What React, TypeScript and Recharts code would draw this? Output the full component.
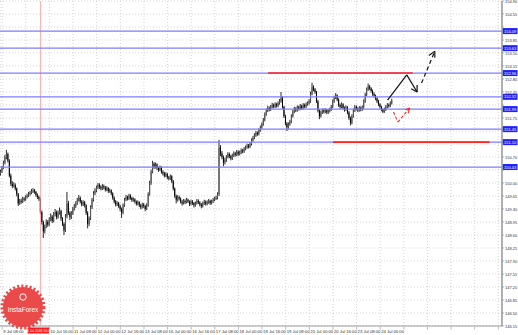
import React from 'react'
import { ComposedChart, Bar, XAxis, YAxis, CartesianGrid, ReferenceLine } from 'recharts'

// hourly bars, 9 Jul 07:00 .. 24 Jul 06:00 (open = previous close)
const firstOpen = 150.25
const closes = [
  150.30, 150.42, 150.55, 150.70, 150.78, 150.60, 150.20, 149.98, 149.92, 149.95,
  149.85, 149.70, 149.45, 149.52, 149.50, 149.58, 149.55, 149.62, 149.66, 149.70,
  149.74, 149.78, 149.80, 149.76, 149.68, 149.62, 149.58, 149.22, 148.95, 148.70,
  148.82, 148.95, 148.88, 149.02, 149.10, 148.98, 149.15, 149.22, 149.08, 149.20,
  149.25, 149.05, 148.90, 148.72, 149.10, 149.45, 149.20, 149.08, 149.18, 149.30,
  149.38, 149.45, 149.55, 149.60, 149.50, 149.42, 149.48, 149.40, 149.20, 148.90,
  149.05, 149.35, 149.55, 149.72, 149.80, 149.88, 149.95, 149.90, 149.85, 149.92,
  149.88, 149.82, 149.86, 149.78, 149.80, 149.72, 149.60, 149.50, 149.42, 149.46,
  149.38, 149.30, 149.20, 149.40, 149.55, 149.62, 149.58, 149.66, 149.60, 149.54,
  149.56, 149.50, 149.44, 149.48, 149.40, 149.35, 149.42, 149.38, 149.30, 149.40,
  149.70, 150.00, 150.30, 150.52, 150.44, 150.50, 150.40, 150.36, 150.42, 150.30,
  150.26, 150.20, 150.24, 150.15, 150.12, 150.18, 150.05, 149.85, 149.65, 149.55,
  149.62, 149.58, 149.50, 149.45, 149.52, 149.48, 149.55, 149.50, 149.44, 149.50,
  149.46, 149.40, 149.45, 149.52, 149.48, 149.42, 149.38, 149.45, 149.50, 149.44,
  149.48, 149.52, 149.46, 149.50, 149.55, 149.58, 149.60, 149.70, 150.95, 150.80,
  150.70, 150.55, 150.62, 150.70, 150.78, 150.72, 150.66, 150.74, 150.80, 150.76,
  150.84, 150.78, 150.82, 150.88, 150.85, 150.92, 150.96, 151.00, 150.98, 151.05,
  151.15, 151.22, 151.28, 151.35, 151.32, 151.42, 151.50, 151.58, 151.70, 151.85,
  151.95, 152.02, 151.98, 152.05, 152.10, 152.06, 152.12, 152.08, 152.15, 152.20,
  152.30, 152.05, 151.80, 151.60, 151.50, 151.58, 151.65, 151.80, 151.92, 152.00,
  151.96, 152.04, 152.00, 152.08, 152.02, 152.10, 152.06, 152.12, 152.15, 152.20,
  152.40, 152.58, 152.52, 152.45, 152.20, 151.95, 151.80, 151.90, 151.95, 151.92,
  151.96, 151.90, 151.94, 151.98, 152.05, 152.20, 152.30, 152.36, 152.25, 152.10,
  152.05, 152.12, 152.02, 151.98, 152.04, 151.90, 151.75, 151.62, 151.80, 151.95,
  152.05, 152.00, 151.96, 152.02, 151.98, 152.04, 152.20, 152.38, 152.52, 152.60,
  152.55, 152.48, 152.40, 152.35, 152.28, 152.20, 152.12, 152.05, 151.98, 151.92,
  151.98, 152.05, 152.10, 152.08, 152.15, 152.22,
]
const highs = [
  150.36, 150.46, 150.60, 150.76, 150.89, 150.82, 150.64, 150.25, 150.05, 150.02,
  149.99, 149.88, 149.73, 149.57, 149.58, 149.63, 149.62, 149.67, 149.71, 149.76,
  149.79, 149.84, 149.86, 149.84, 149.79, 149.72, 149.66, 149.61, 149.26, 148.99,
  148.88, 149.02, 149.00, 149.08, 149.18, 149.14, 149.22, 149.30, 149.26, 149.26,
  149.34, 149.28, 149.08, 148.94, 149.16, 149.76, 149.52, 149.24, 149.24, 149.36,
  149.44, 149.51, 149.60, 149.68, 149.64, 149.54, 149.53, 149.52, 149.43, 149.24,
  149.10, 149.40, 149.60, 149.78, 149.86, 149.93, 150.00, 149.99, 149.94, 149.97,
  149.96, 149.92, 149.91, 149.89, 149.85, 149.83, 149.75, 149.64, 149.54, 149.51,
  149.49, 149.42, 149.34, 149.45, 149.60, 149.68, 149.66, 149.71, 149.70, 149.63,
  149.61, 149.59, 149.53, 149.53, 149.51, 149.44, 149.47, 149.46, 149.41, 149.45,
  149.75, 150.06, 150.36, 150.60, 150.56, 150.55, 150.53, 150.44, 150.47, 150.45,
  150.34, 150.30, 150.29, 150.27, 150.19, 150.23, 150.21, 150.08, 149.88, 149.69,
  149.67, 149.66, 149.61, 149.54, 149.57, 149.56, 149.60, 149.58, 149.53, 149.55,
  149.54, 149.49, 149.50, 149.57, 149.56, 149.51, 149.46, 149.50, 149.55, 149.53,
  149.53, 149.57, 149.55, 149.55, 149.60, 149.63, 149.66, 149.75, 151.16, 151.02,
  150.86, 150.74, 150.68, 150.75, 150.83, 150.82, 150.76, 150.79, 150.85, 150.84,
  150.89, 150.88, 150.87, 150.93, 150.92, 150.97, 151.01, 151.06, 151.05, 151.10,
  151.20, 151.27, 151.34, 151.40, 151.39, 151.47, 151.55, 151.63, 151.75, 151.90,
  152.00, 152.08, 152.06, 152.10, 152.16, 152.14, 152.17, 152.16, 152.20, 152.26,
  152.45, 152.34, 152.08, 151.84, 151.64, 151.63, 151.70, 151.85, 151.97, 152.05,
  152.04, 152.09, 152.08, 152.13, 152.11, 152.15, 152.14, 152.17, 152.20, 152.26,
  152.46, 152.70, 152.63, 152.56, 152.48, 152.24, 151.99, 151.95, 152.00, 152.00,
  152.01, 151.99, 151.99, 152.03, 152.10, 152.25, 152.35, 152.42, 152.39, 152.28,
  152.14, 152.17, 152.15, 152.06, 152.09, 152.07, 151.94, 151.79, 151.85, 152.00,
  152.10, 152.09, 152.04, 152.07, 152.06, 152.09, 152.25, 152.43, 152.57, 152.68,
  152.64, 152.58, 152.52, 152.44, 152.38, 152.31, 152.24, 152.15, 152.08, 152.01,
  152.03, 152.10, 152.15, 152.14, 152.20, 152.27,
]
const lows = [
  150.20, 150.27, 150.38, 150.50, 150.64, 150.55, 150.15, 149.92, 149.86, 149.88,
  149.80, 149.64, 149.38, 149.41, 149.44, 149.46, 149.50, 149.52, 149.58, 149.62,
  149.66, 149.70, 149.73, 149.71, 149.63, 149.57, 149.52, 149.16, 148.88, 148.52,
  148.64, 148.78, 148.82, 148.84, 148.97, 148.92, 148.94, 149.10, 149.02, 149.04,
  149.15, 148.98, 148.84, 148.60, 148.68, 149.05, 149.14, 149.00, 149.03, 149.14,
  149.26, 149.33, 149.41, 149.50, 149.45, 149.37, 149.38, 149.34, 149.14, 148.78,
  148.84, 149.00, 149.30, 149.50, 149.67, 149.75, 149.83, 149.84, 149.80, 149.81,
  149.83, 149.77, 149.78, 149.73, 149.74, 149.67, 149.55, 149.45, 149.37, 149.38,
  149.33, 149.24, 149.06, 149.16, 149.36, 149.51, 149.53, 149.54, 149.55, 149.49,
  149.50, 149.45, 149.39, 149.40, 149.35, 149.29, 149.31, 149.33, 149.24, 149.27,
  149.36, 149.66, 149.95, 150.26, 150.38, 150.39, 150.35, 150.30, 150.32, 150.25,
  150.20, 150.15, 150.16, 150.10, 150.07, 150.08, 150.00, 149.80, 149.60, 149.45,
  149.50, 149.53, 149.45, 149.39, 149.42, 149.43, 149.45, 149.46, 149.38, 149.40,
  149.41, 149.34, 149.36, 149.42, 149.43, 149.37, 149.32, 149.34, 149.41, 149.39,
  149.40, 149.44, 149.41, 149.42, 149.46, 149.51, 149.54, 149.56, 149.65, 150.72,
  150.64, 150.45, 150.50, 150.57, 150.66, 150.67, 150.61, 150.62, 150.70, 150.71,
  150.72, 150.73, 150.74, 150.78, 150.80, 150.81, 150.88, 150.92, 150.93, 150.94,
  151.01, 151.11, 151.18, 151.24, 151.27, 151.28, 151.38, 151.46, 151.54, 151.66,
  151.81, 151.91, 151.93, 151.94, 152.01, 152.01, 152.02, 152.03, 152.04, 152.11,
  152.16, 152.00, 151.75, 151.55, 151.40, 151.46, 151.54, 151.61, 151.76, 151.88,
  151.91, 151.92, 151.95, 151.96, 151.97, 151.98, 152.01, 152.02, 152.08, 152.11,
  152.16, 152.36, 152.47, 152.40, 152.15, 151.90, 151.72, 151.76, 151.86, 151.87,
  151.88, 151.85, 151.86, 151.90, 151.94, 152.01, 152.16, 152.26, 152.20, 152.05,
  152.00, 152.01, 151.97, 151.92, 151.94, 151.85, 151.70, 151.55, 151.58, 151.76,
  151.91, 151.95, 151.91, 151.92, 151.93, 151.94, 152.00, 152.16, 152.34, 152.48,
  152.50, 152.43, 152.35, 152.30, 152.23, 152.15, 152.07, 152.00, 151.93, 151.88,
  151.89, 151.94, 152.01, 152.03, 152.04, 152.11,
]

const slotCount = 340 // bars shown incl. empty space to the right
const timeTicks = [1, 17, 33, 49, 65, 81, 97, 113, 129, 145, 161, 177, 193, 209, 225, 241, 257, 273, 289, 305, 321, 337]
const timeLabels = [
  '9 Jul 08:00', '10 Jul 00:00', '10 Jul 16:00', '11 Jul 08:00', '12 Jul 00:00', '12 Jul 16:00',
  '13 Jul 08:00', '16 Jul 00:00', '16 Jul 16:00', '17 Jul 08:00', '18 Jul 00:00', '18 Jul 16:00',
  '19 Jul 08:00', '20 Jul 00:00', '20 Jul 16:00', '23 Jul 08:00', '24 Jul 00:00',
]
const priceTicks = [
  146.15, 146.50, 146.85, 147.20, 147.55, 147.90, 148.25, 148.60, 148.95, 149.30, 149.65, 150.00, 150.35,
  150.70, 151.05, 151.40, 151.75, 152.10, 152.45, 152.80, 153.15, 153.50, 153.85, 154.20, 154.55, 154.90,
]
const levels = [154.09, 153.63, 152.96, 152.32, 151.99, 151.45, 151.10, 150.43]
const redLevels = [
  { y: 152.96, from: 181, to: 279 },
  { y: 151.1, from: 225, to: 331 },
]
const markerBar = 27
const markerLabel = '10 Jul 2018 10:00'

const solidArrow = [[262, 152.23], [275, 152.91], [282, 152.45]]
const solidArrowHead = [[282, 152.64], [282, 152.45], [278, 152.54]]
const dashedArrow = [[285, 152.69], [294, 153.55]]
const dashedArrowHead = [[290, 153.43], [294, 153.55], [294, 153.37]]
const redArrow = [[266, 151.91], [269, 151.64], [277, 152.02]]
const redArrowHead = [[274, 151.97], [277, 152.02], [276, 151.88]]

const rows = Array.from({ length: slotCount }, (_, i) =>
  i < closes.length
    ? { i, o: i === 0 ? firstOpen : closes[i - 1], h: highs[i], l: lows[i], c: closes[i] }
    : { i, o: null, h: null, l: null, c: null }
)

const font = 'Liberation Sans, Arial, sans-serif'
// labels hidden under the terminal's tags, as in the screenshot
const coveredTick = (v: number) => levels.some((l) => Math.abs(l - v) < 0.12)
const coveredTime = (bar: number) => bar > markerBar - 14 && bar < markerBar + 4

const Candle = (props: any) => {
  const { x, y, width, height, payload } = props
  if (!payload || payload.h == null) return null
  const { o, h, l, c } = payload
  const top = Math.min(y, y + height)
  const span = Math.abs(height)
  const k = h === l ? 0 : span / (h - l)
  const cx = x + width / 2
  const bodyTop = top + (h - Math.max(o, c)) * k
  const bodyH = Math.max(1, Math.abs(o - c) * k)
  const up = c >= o
  return (
    <g>
      <line x1={cx} x2={cx} y1={top} y2={top + span} stroke="#2a2a2a" strokeWidth={1} />
      <rect x={x} y={bodyTop} width={Math.max(1, width)} height={bodyH} fill={up ? '#5a5a5a' : '#000'} />
    </g>
  )
}

const TimeTick = (props: any) => {
  const { x, y, payload } = props
  const label = timeLabels[timeTicks.indexOf(payload.value)]
  return (
    <g>
      <line x1={x} x2={x} y1={y - 1} y2={y + 1.5} stroke="#888" strokeWidth={0.6} />
      {label && !coveredTime(payload.value) && (
        <text x={x + 1} y={y + 4.8} fontSize={4.2} fill="#333" fontFamily={font} textAnchor="start">
          {label}
        </text>
      )}
    </g>
  )
}

const PriceTick = (props: any) => {
  const { x, y, payload } = props
  return (
    <g>
      <line x1={x - 2} x2={x} y1={y} y2={y} stroke="#888" strokeWidth={0.6} />
      {!coveredTick(payload.value) && (
        <text x={x + 1} y={y + 1.5} fontSize={4} fill="#333" fontFamily={font}>
          {payload.value.toFixed(2)}
        </text>
      )}
    </g>
  )
}

const PriceTag = (props: any) => {
  const { viewBox, value } = props
  if (!viewBox) return null
  const x = viewBox.x + viewBox.width
  return (
    <g>
      <rect x={x + 0.5} y={viewBox.y - 3} width={15} height={6} fill="#1f1fff" />
      <text x={x + 2} y={viewBox.y + 1.5} fontSize={4} fill="#fff" fontFamily={font}>
        {value.toFixed(2)}
      </text>
    </g>
  )
}

const TimeTag = (props: any) => {
  const { viewBox } = props
  if (!viewBox) return null
  const bottom = viewBox.y + viewBox.height
  return (
    <g>
      <rect x={viewBox.x - 13} y={bottom + 1.5} width={21.5} height={6} fill="#ff1a1a" />
      <text x={viewBox.x - 2.2} y={bottom + 5.8} fontSize={3.3} fill="#fff" fontFamily={font} textAnchor="middle">
        {markerLabel}
      </text>
    </g>
  )
}

const segs = (pts: number[][]) => pts.slice(1).map((p, k) => [{ x: pts[k][0], y: pts[k][1] }, { x: p[0], y: p[1] }])

const Logo = () => (
  <svg width={50} height={50} style={{ position: 'absolute', left: 0, top: 283 }}>
    <circle cx={23} cy={24} r={20} fill="#ea3b3b" stroke="#ea3b3b" strokeWidth={5} strokeDasharray="2 2" opacity={0.92} />
    <circle cx={23} cy={14} r={3.2} fill="none" stroke="#fff" strokeWidth={1} />
    <text x={23} y={29} fontSize={6.5} fill="#fff" fontFamily={font} textAnchor="middle">InstaForex</text>
  </svg>
)

const App: React.FC = () => (
  <div style={{ position: 'relative', width: 518, height: 335, background: '#fff' }}>
    <style>{'body{margin:0}'}</style>
    <ComposedChart width={518} height={335} data={rows} margin={{ top: 1, right: 0, bottom: 0, left: 0 }} barCategoryGap={0} barGap={0}>
      <CartesianGrid stroke="#c4c4c4" strokeDasharray="1 2" strokeWidth={0.7} />
      <XAxis dataKey="i" type="category" ticks={timeTicks} interval={0} height={9} tickLine={false} tickSize={0} tick={<TimeTick />} axisLine={{ stroke: '#999', strokeWidth: 1.2 }} />
      <YAxis orientation="right" type="number" domain={[146.15, 154.9]} ticks={priceTicks} interval={0} width={16} allowDataOverflow
        tickSize={1.5} tickMargin={0.5} tick={<PriceTick />} tickLine={false} axisLine={{ stroke: '#999', strokeWidth: 1.5 }} />
      <ReferenceLine x={markerBar} stroke="#ff9090" strokeWidth={0.8} label={(p: any) => <TimeTag {...p} />} />
      {levels.map((v) => (
        <ReferenceLine key={v} y={v} stroke="#7d7dff" strokeWidth={1.2} label={(p: any) => <PriceTag {...p} value={v} />} />
      ))}
      <Bar dataKey={(d: any) => (d.h == null ? null : [d.l, d.h])} shape={<Candle />} isAnimationActive={false} />
      {redLevels.map((r) => (
        <ReferenceLine key={r.y} segment={[{ x: r.from, y: r.y }, { x: r.to, y: r.y }]} stroke="#ff2424" strokeWidth={1.6} />
      ))}
      {[...segs(solidArrow), ...segs(solidArrowHead)].map((s, k) => (
        <ReferenceLine key={'s' + k} segment={s} stroke="#111" strokeWidth={1.2} />
      ))}
      {[...segs(dashedArrow), ...segs(dashedArrowHead)].map((s, k) => (
        <ReferenceLine key={'d' + k} segment={s} stroke="#111" strokeWidth={1.2} strokeDasharray={k === 0 ? '4 3' : undefined} />
      ))}
      {[...segs(redArrow), ...segs(redArrowHead)].map((s, k) => (
        <ReferenceLine key={'r' + k} segment={s} stroke="#ff2424" strokeWidth={1.1} strokeDasharray={k < 2 ? '3 2' : undefined} />
      ))}
    </ComposedChart>
    <Logo />
  </div>
)

export default App
